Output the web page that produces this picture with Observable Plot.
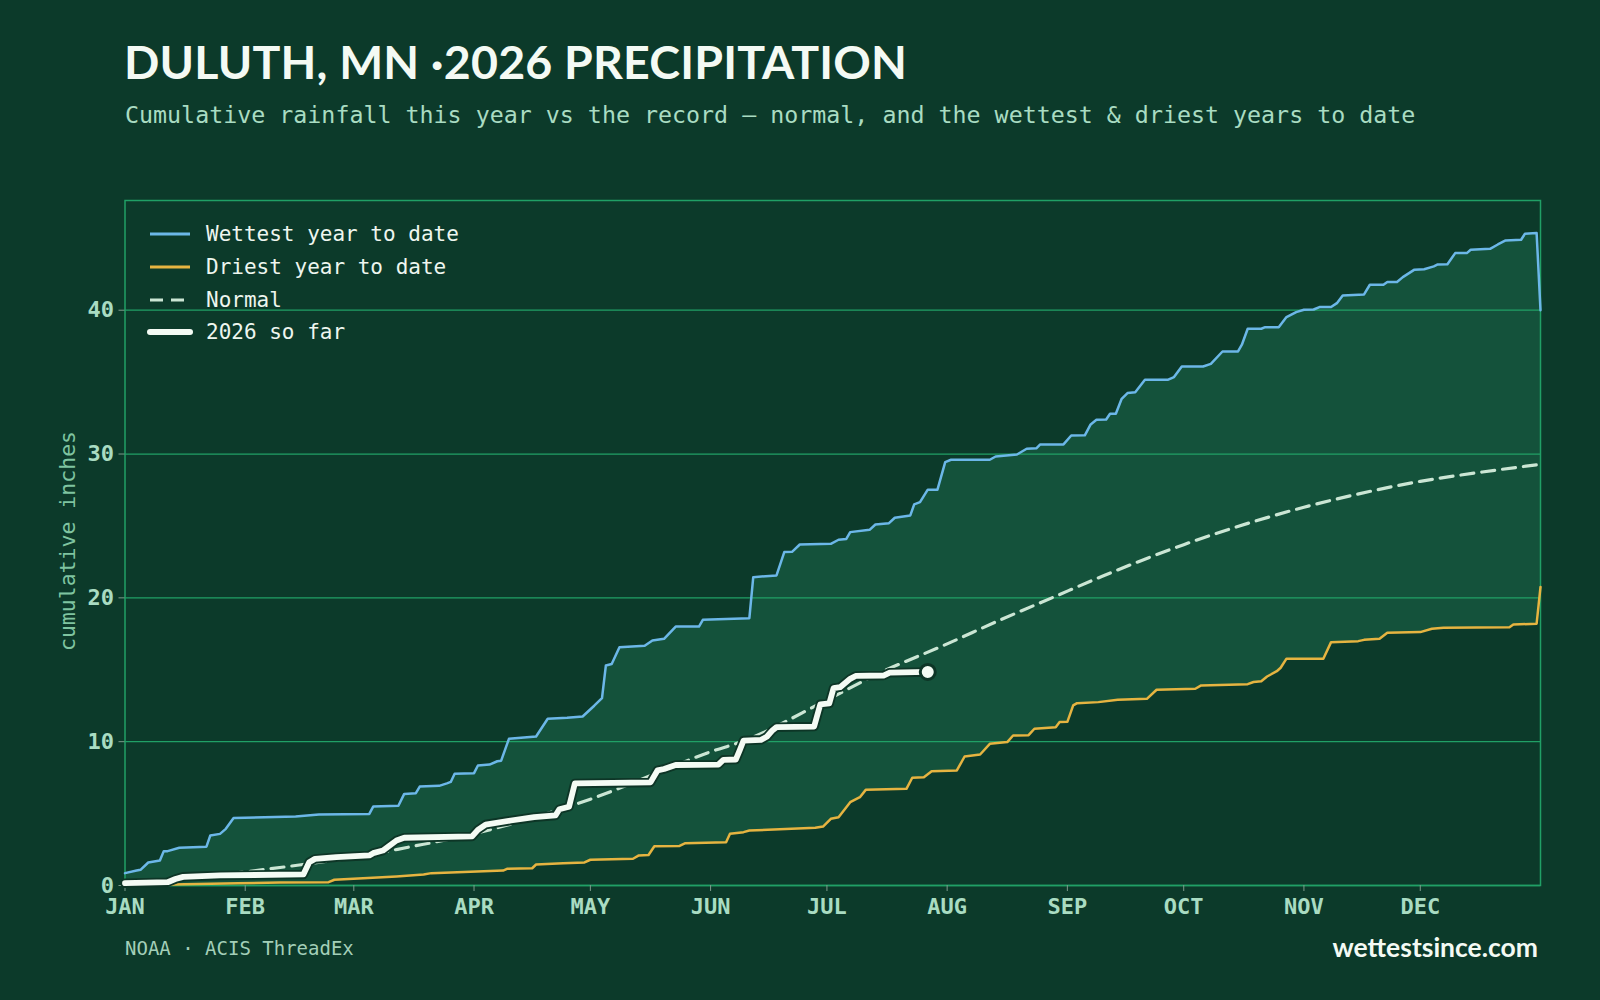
<!DOCTYPE html>
<html>
<head>
<meta charset="utf-8">
<script src="https://cdn.jsdelivr.net/npm/d3@7"></script>
<script src="https://cdn.jsdelivr.net/npm/@observablehq/plot@0.6"></script>
<style>
  html, body { margin: 0; padding: 0; background: #0c3a2a; }
  #page { position: relative; width: 1600px; height: 1000px; overflow: hidden; background: #0c3a2a; }
  .abs { position: absolute; white-space: nowrap; line-height: 1; }
  .title { left: 124px; top: 33px; font: 700 46.5px Lato, "Open Sans", sans-serif; color: #f4faf4; letter-spacing: 0.2px; }
  .subtitle { left: 125px; top: 101px; font: 23.3px "DejaVu Sans Mono", monospace; color: #a9dcc2; }
  .ylabel { left: 67px; top: 541px; font: 21.5px "DejaVu Sans Mono", monospace; color: #7fc4a0;
            transform: translate(-50%, -50%) rotate(-90deg); }
  .legend { left: 148px; top: 218px; font: 21px "DejaVu Sans Mono", monospace; color: #eef6ef; }
  .legend .row { display: flex; align-items: center; height: 32.7px; }
  .legend svg { width: 44px; height: 12px; margin-right: 14px; overflow: visible; }
  .source { left: 125px; top: 937px; font: 19px "DejaVu Sans Mono", monospace; color: #a3cfb8; }
  .brand { right: 62px; top: 931px; font: 700 26.5px Lato, "Open Sans", sans-serif; color: #f4faf4; }
</style>
</head>
<body>
<div id="page">
  <div class="abs title">DULUTH, MN ·2026 PRECIPITATION</div>
  <div class="abs subtitle">Cumulative rainfall this year vs the record — normal, and the wettest &amp; driest years to date</div>
  <div id="chart" class="abs" style="left:0;top:150px"></div>
  <div class="abs ylabel">cumulative inches</div>
  <div class="abs legend" id="legend"></div>
  <div class="abs source">NOAA · ACIS ThreadEx</div>
  <div class="abs brand">wettestsince.com</div>
</div>
<script>
// Month tick positions (day of year, 0 = Jan 1) and their labels
const MONTH_STARTS = [0, 31, 59, 90, 120, 151, 181, 212, 243, 273, 304, 334];
const MONTHS = ["JAN", "FEB", "MAR", "APR", "MAY", "JUN", "JUL", "AUG", "SEP", "OCT", "NOV", "DEC"];
const Y_TICKS = [0, 10, 20, 30, 40];

// Cumulative inches by day of year: [day, inches]
const wettest = [
  [0,0.86],[3,1.04],[4,1.09],[6,1.6],[9,1.74],[10,2.39],[11,2.39],[14,2.62],[21,2.7],[22,3.48],
  [24.5,3.59],[26,3.94],[28,4.7],[44,4.8],[50,4.94],[63,4.98],[64,5.49],[70.5,5.54],[72,6.37],[75,6.42],
  [76,6.88],[81,6.93],[83,7.1],[84,7.2],[85,7.77],[90,7.81],[91,8.34],[94,8.41],[96,8.64],[97,8.68],
  [99,10.2],[106,10.36],[109,11.59],[114,11.66],[118,11.75],[121,12.5],[123,13.03],[124,15.3],[125.5,15.4],[127.5,16.57],
  [134,16.67],[136,17.04],[139,17.15],[142,18.0],[148,18.0],[149,18.47],[161,18.59],[162,21.44],[168,21.56],[170,23.18],
  [172,23.2],[174,23.71],[182,23.76],[184,24.04],[186,24.1],[187,24.57],[192,24.73],[193.5,25.1],[197,25.19],[198.5,25.57],
  [202.5,25.73],[203.5,26.5],[205,26.66],[207,27.52],[209.5,27.52],[211.5,29.44],[213,29.6],[223,29.6],[224.5,29.83],[230,29.97],
  [232.5,30.37],[235,30.4],[236,30.67],[242,30.67],[244,31.29],[247.5,31.3],[249,32.06],[250.5,32.38],[253,32.4],[254,32.8],
  [255.5,32.8],[257,33.84],[258.5,34.24],[260.5,34.3],[263,35.17],[269,35.17],[270.5,35.35],[272.5,36.09],[278,36.09],[280,36.27],
  [283,37.13],[287,37.13],[288,37.6],[289.5,38.71],[293,38.71],[294,38.82],[297.5,38.82],[299.5,39.52],[302,39.87],[304,40.03],
  [306.5,40.05],[308,40.22],[311,40.22],[312.5,40.49],[314,41.03],[319.5,41.1],[321,41.77],[324.5,41.77],[325.5,41.96],[328,41.96],
  [329.5,42.3],[332.5,42.82],[335,42.85],[337.5,43.05],[338.5,43.18],[341,43.2],[343,43.97],[346,43.97],[347,44.2],[352,44.27],
  [354,44.57],[356,44.85],[360,44.9],[361,45.32],[364,45.36],[365,40.0]
];

const driest = [
  [0,0],[12,0.07],[29,0.16],[40,0.2],[52.5,0.23],[54,0.4],[70,0.63],[77,0.76],[79,0.86],[97.5,1.04],
  [98.5,1.16],[105,1.2],[106,1.46],[113,1.55],[118.5,1.6],[120,1.79],[131,1.86],[132.5,2.09],[135,2.12],[136.5,2.73],
  [143,2.75],[144.5,2.94],[155,3.01],[156,3.6],[159.5,3.71],[161,3.82],[178,4.01],[180,4.1],[182,4.64],[184,4.75],
  [187,5.79],[189.5,6.14],[191,6.65],[201.5,6.72],[203,7.49],[206,7.53],[208,7.95],[214.5,8.0],[216.5,8.97],[220.5,9.11],
  [223,9.85],[227.5,9.97],[229,10.43],[233,10.45],[234.5,10.9],[240,11.0],[241,11.36],[243,11.38],[244.5,12.52],[245.5,12.68],
  [251,12.75],[256,12.91],[263.5,12.98],[266,13.61],[276,13.68],[277.5,13.91],[289.5,14.0],[291,14.15],[293,14.2],[294.5,14.53],
  [297,14.9],[298,15.14],[299.5,15.77],[309,15.77],[311,16.92],[318,16.99],[319.5,17.08],[323.5,17.15],[325.5,17.57],[334,17.62],
  [337,17.85],[340,17.92],[357,17.96],[358,18.15],[364,18.2],[365,20.75]
];

const normal = [
  [0,0],[15,0.45],[31,0.95],[47,1.5],[59,1.95],[73,2.66],[90,3.6],[105,4.7],[120,6.0],[137,7.8],
  [151,9.3],[159,10.0],[181,12.9],[194,14.7],[212,16.8],[226,18.5],[239,20.0],[252,21.5],[273,23.7],[291,25.3],
  [304,26.3],[316,27.1],[334,28.1],[350,28.75],[364,29.25]
];

const current = [
  [0,0.16],[11,0.23],[13,0.45],[15,0.6],[24.5,0.7],[46,0.77],[47.5,1.62],[49,1.85],[54.5,1.97],[63,2.09],
  [64,2.25],[66.5,2.43],[70,3.13],[72,3.32],[89.5,3.41],[91,3.87],[93,4.24],[99.5,4.52],[105.5,4.75],[111,4.87],
  [112,5.3],[114.5,5.48],[116,7.1],[135.5,7.17],[137.3,8.0],[139,8.1],[142,8.38],[153,8.4],[154.3,8.74],[157.5,8.76],
  [158.5,9.4],[159.5,10.08],[164,10.13],[165.5,10.34],[167,10.8],[168,11.01],[177.7,11.05],[179.3,12.6],[181.6,12.66],[182.7,13.72],
  [184.4,13.79],[187,14.37],[188.4,14.57],[195.6,14.6],[197.2,14.8],[207,14.85]
];

// Palette
const BG = "#0c3a2a";
const BAND = "#14523b";
const GRID = "#20a066";
const TICK = "#7d9a8c";
const TEXT = "#a9dcc2";
const WET = "#6cb7e8";
const DRY = "#e6b441";
const NORMAL = "#cbe6d4";
const NOW = "#f4fbf4";

const X = d => d[0];
const Y = d => d[1];
const yMax = d3.max(wettest, Y) * 1.05;

const chart = Plot.plot({
  width: 1600,
  height: 800,
  marginTop: 50,
  marginBottom: 65,
  marginLeft: 124.5,
  marginRight: 60,
  style: { background: "transparent", color: TEXT, fontFamily: "DejaVu Sans Mono, monospace", fontSize: "22px" },
  x: { domain: [0, 365] },
  y: { domain: [0, yMax] },
  marks: [
    // band between the driest and wettest years
    Plot.areaY(wettest, { x: X, y: Y, fill: BAND }),
    Plot.areaY(driest, { x: X, y: Y, fill: BG }),
    Plot.gridY(Y_TICKS, { stroke: GRID, strokeOpacity: 1, strokeWidth: 1.3 }),
    Plot.frame({ stroke: GRID, strokeWidth: 1.5 }),
    Plot.axisY({ ticks: Y_TICKS, label: null, tickSize: 6, tickPadding: 5, stroke: TICK, fill: TEXT, fontWeight: 700, fontSize: 22 }),
    Plot.axisX({ ticks: MONTH_STARTS, tickFormat: d => MONTHS[MONTH_STARTS.indexOf(d)], label: null,
                 tickSize: 6, tickPadding: 7, stroke: TICK, fill: TEXT, fontWeight: 700, fontSize: 22 }),
    Plot.line(driest, { x: X, y: Y, stroke: DRY, strokeWidth: 2.5 }),
    Plot.line(wettest, { x: X, y: Y, stroke: WET, strokeWidth: 2.5 }),
    Plot.line(normal, { x: X, y: Y, stroke: NORMAL, strokeWidth: 3.2, strokeDasharray: "13,8", curve: "monotone-x" }),
    // this year's running total, with a dark halo
    Plot.line(current, { x: X, y: Y, stroke: "#0d3526", strokeWidth: 9.5, strokeLinejoin: "round" }),
    Plot.line(current, { x: X, y: Y, stroke: NOW, strokeWidth: 5.8, strokeLinejoin: "round" }),
    Plot.dot(current.slice(-1), { x: X, y: Y, r: 7.5, fill: NOW, stroke: "#0d3526", strokeWidth: 3 })
  ]
});
document.getElementById("chart").appendChild(chart);

// Legend rows
const legendItems = [
  { label: "Wettest year to date", stroke: WET, width: 3, dash: null },
  { label: "Driest year to date", stroke: DRY, width: 3, dash: null },
  { label: "Normal", stroke: NORMAL, width: 3, dash: "13,8" },
  { label: "2026 so far", stroke: NOW, width: 6, dash: null }
];
const legend = d3.select("#legend");
for (const item of legendItems) {
  const row = legend.append("div").attr("class", "row");
  const svg = row.append("svg").attr("viewBox", "0 0 44 12");
  svg.append("line")
    .attr("x1", 2).attr("x2", 42).attr("y1", 6).attr("y2", 6)
    .attr("stroke", item.stroke).attr("stroke-width", item.width)
    .attr("stroke-linecap", item.width > 4 ? "round" : "butt")
    .attr("stroke-dasharray", item.dash);
  row.append("span").text(item.label);
}
</script>
</body>
</html>
